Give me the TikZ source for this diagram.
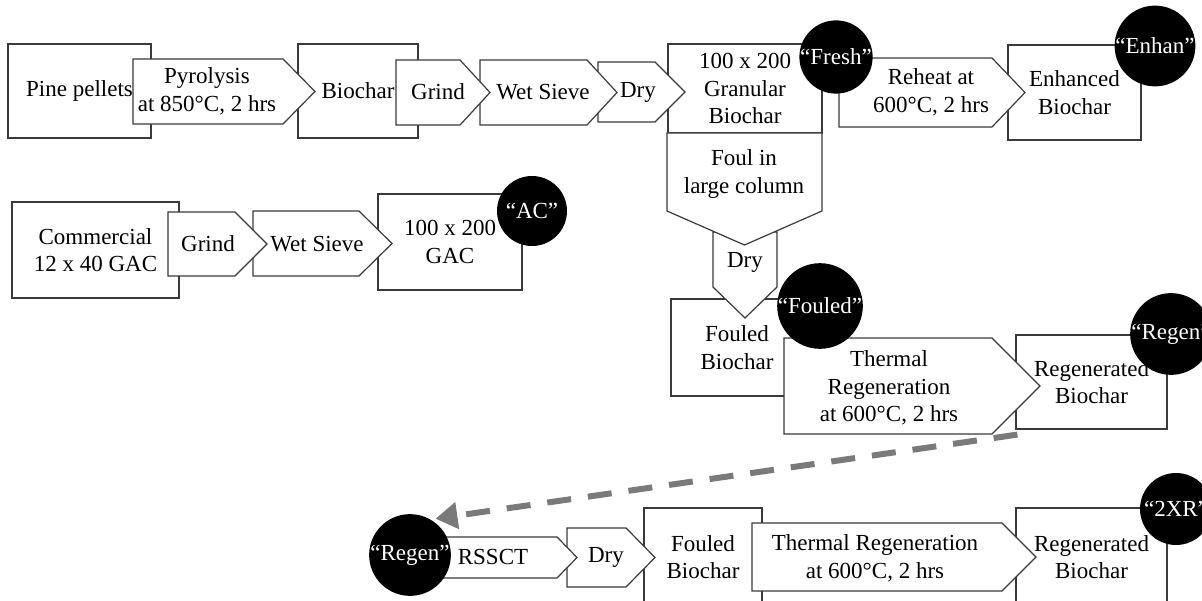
\documentclass[tikz,border=0pt]{standalone}
\usepackage{fontspec}
\setmainfont{Liberation Serif}
\usetikzlibrary{arrows.meta}
\definecolor{edge}{HTML}{3A3A3A}
\definecolor{backline}{HTML}{7A7A7A}

\begin{document}
\begin{tikzpicture}[x=1pt,y=-1pt]
  \tikzstyle{every node}=[font=\fontsize{23}{27.6}\selectfont,align=center,inner sep=0pt]
  \tikzstyle{box}=[rectangle,draw=edge,fill=white,line width=1.2pt]
  \tikzstyle{chev}=[draw=edge,fill=white,line width=1.2pt]
  \tikzstyle{tag}=[circle,fill=black,minimum size=72pt,text=white]
  \tikzstyle{back}=[draw=backline,line width=6pt,dash pattern=on 24pt off 17pt,-{Triangle[length=22pt,width=26pt]}]
  \useasboundingbox (0,0) rectangle (1202,601);
  \clip (0,0) rectangle (1202,601);
  % pine pellets -> enhanced biochar
  \node [box,minimum width=143pt,minimum height=94pt] (pine) at (79.5,91) {Pine pellets};
  \node [box,minimum width=120pt,minimum height=94pt] (biochar) at (358,91) {Biochar};
  \node [box,minimum width=154pt,minimum height=89pt] (granular) at (745,88.5) {100 x 200\\Granular\\Biochar};
  \node [box,minimum width=133pt,minimum height=95pt] (enhanced) at (1074.5,92.5) {Enhanced\\Biochar};
  \draw [chev] (598,62) -- (655,62) -- (685,92) -- (655,122) -- (598,122) -- cycle;
  \node (dryA) at (638,92) {Dry};
  \draw [chev] (480,60) -- (587,60) -- (617,92.5) -- (587,125) -- (480,125) -- cycle;
  \node (sieveA) at (543,92) {Wet Sieve};
  \draw [chev] (396,60) -- (460,60) -- (490,92.5) -- (460,125) -- (396,125) -- cycle;
  \node (grindA) at (438,92) {Grind};
  \draw [chev] (133,59) -- (283,59) -- (315,91.5) -- (283,124) -- (133,124) -- cycle;
  \node (pyro) at (207,91) {Pyrolysis\\at 850°C, 2 hrs};
  \draw [chev] (839,58) -- (992,58) -- (1025,92.5) -- (992,127) -- (839,127) -- cycle;
  \node (reheat) at (931,92) {Reheat at\\600°C, 2 hrs};
  % fouling column and first regeneration
  \node [box,minimum width=132pt,minimum height=97pt] (fouledA) at (737,347.5) {Fouled\\Biochar};
  \draw [chev] (713,232) -- (777,232) -- (777,287) -- (745,318) -- (713,287) -- cycle;
  \node (dryB) at (745,262) {Dry};
  \draw [chev] (667,133) -- (822,133) -- (822,211) -- (744.5,245) -- (667,211) -- cycle;
  \node (foul) at (744,174) {Foul in\\large column};
  \node [box,minimum width=151pt,minimum height=94pt] (regenA) at (1091.5,382) {Regenerated\\Biochar};
  \draw [chev] (784,338) -- (992,338) -- (1040,386) -- (992,434) -- (784,434) -- cycle;
  \node (thermalA) at (889,388) {Thermal\\Regeneration\\at 600°C, 2 hrs};
  % commercial GAC
  \node [box,minimum width=167pt,minimum height=96pt] (commercial) at (95.5,250) {Commercial\\12 x 40 GAC};
  \node [box,minimum width=144pt,minimum height=96pt] (gac) at (450,242) {100 x 200\\GAC};
  \draw [chev] (253,211) -- (359,211) -- (392,243.5) -- (359,276) -- (253,276) -- cycle;
  \node (sieveB) at (317,244) {Wet Sieve};
  \draw [chev] (168,212) -- (235,212) -- (267,244) -- (235,276) -- (168,276) -- cycle;
  \node (grindB) at (208,244) {Grind};
  % second cycle
  \node [box,minimum width=118pt,minimum height=98pt] (fouledB) at (703,557) {Fouled\\Biochar};
  \node [box,minimum width=151pt,minimum height=98pt] (regenB) at (1091.5,557) {Regenerated\\Biochar};
  \draw [chev] (567,528) -- (626,528) -- (655,557.5) -- (626,587) -- (567,587) -- cycle;
  \node (dryC) at (606,557) {Dry};
  \draw [chev] (400,537) -- (557,537) -- (577,557.5) -- (557,578) -- (400,578) -- cycle;
  \node (rssct) at (493,557) {RSSCT};
  \draw [chev] (752,523) -- (1002,523) -- (1036,557) -- (1002,591) -- (752,591) -- cycle;
  \node (thermalB) at (875,558) {Thermal Regeneration\\at 600°C, 2 hrs};
  % sample labels
  \node [tag] (fresh) at (836,57) {“Fresh”};
  \node [tag] (enhan) at (1155,46) {“Enhan”};
  \node [tag,minimum size=74pt] (fouledtag) at (820,306) {“Fouled”};
  \node [tag,minimum size=74pt] (regentag) at (1171,334) {“Regen”};
  \node [tag,minimum size=70pt] (actag) at (532,211) {“AC”};
  \node [tag,minimum size=70pt] (regenlow) at (410,555) {“Regen”};
  \node [tag] (twoxr) at (1176,509) {“2XR”};
  \coordinate (backstart) at ([shift={(2,5)}]regenA.south west);
  \draw [back,shorten >=5pt] (backstart) -- (regenlow.60);
\end{tikzpicture}
\end{document}
